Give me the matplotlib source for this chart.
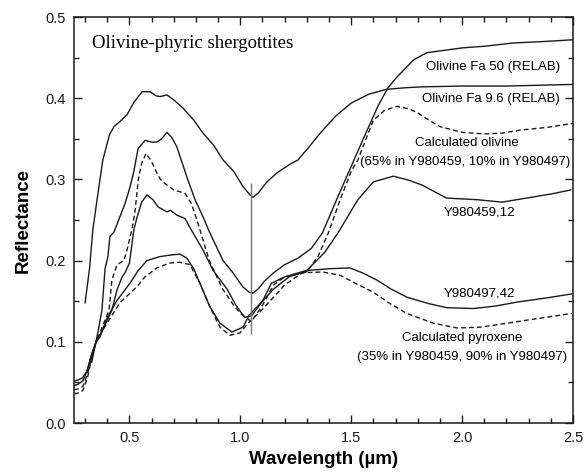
import matplotlib
matplotlib.use('Agg')
from matplotlib import pyplot as plt
from matplotlib.ticker import MultipleLocator, FormatStrFormatter

plt.rcParams['font.family'] = ['Liberation Sans', 'DejaVu Sans']

# Olivine Fa 9.6 (RELAB)
wl_fa96 = [0.30, 0.32, 0.335, 0.354, 0.38, 0.41, 0.43, 0.46, 0.49, 0.52, 0.557,
           0.593, 0.62, 0.638, 0.669, 0.70, 0.741, 0.79, 0.832, 0.88, 0.922,
           0.97, 1.01, 1.04, 1.057, 1.08, 1.12, 1.165, 1.22, 1.26, 1.31, 1.36,
           1.43, 1.5, 1.58, 1.66, 1.75, 1.82, 2.0, 2.2, 2.35, 2.5]
r_fa96 = [0.148, 0.19, 0.238, 0.275, 0.324, 0.355, 0.365, 0.372, 0.38, 0.395,
          0.408, 0.408, 0.403, 0.402, 0.404, 0.398, 0.388, 0.373, 0.357, 0.342,
          0.324, 0.31, 0.292, 0.282, 0.278, 0.283, 0.297, 0.308, 0.318, 0.324,
          0.34, 0.357, 0.378, 0.394, 0.405, 0.411, 0.413, 0.414, 0.415, 0.415,
          0.416, 0.417]

# Olivine Fa 50 (RELAB)
wl_fa50 = [0.33, 0.345, 0.36, 0.376, 0.39, 0.403, 0.412, 0.43, 0.457, 0.48,
           0.502, 0.52, 0.539, 0.57, 0.6, 0.624, 0.645, 0.669, 0.69, 0.714,
           0.759, 0.796, 0.83, 0.863, 0.922, 0.967, 1.01, 1.04, 1.057, 1.08,
           1.11, 1.15, 1.2, 1.26, 1.32, 1.37, 1.45, 1.553, 1.62, 1.666, 1.706,
           1.78, 1.84, 1.92, 2.0, 2.1, 2.23, 2.38, 2.5]
r_fa50 = [0.075, 0.095, 0.115, 0.139, 0.19, 0.205, 0.23, 0.235, 0.254, 0.27,
          0.29, 0.31, 0.338, 0.348, 0.346, 0.346, 0.35, 0.358, 0.352, 0.34,
          0.303, 0.275, 0.255, 0.234, 0.2, 0.185, 0.168, 0.161, 0.16, 0.165,
          0.175, 0.185, 0.195, 0.203, 0.215, 0.234, 0.285, 0.349, 0.39, 0.413,
          0.426, 0.447, 0.456, 0.459, 0.462, 0.464, 0.468, 0.47, 0.472]

# Calculated olivine
wl_calc_ol = [0.25, 0.27, 0.29, 0.31, 0.33, 0.35, 0.38, 0.408, 0.421, 0.444,
              0.475, 0.489, 0.511, 0.525, 0.54, 0.555, 0.575, 0.6, 0.62, 0.64,
              0.66, 0.7, 0.75, 0.78, 0.81, 0.86, 0.92, 0.97, 1.0, 1.05, 1.1,
              1.15, 1.2, 1.3, 1.35, 1.4, 1.45, 1.5, 1.53, 1.6, 1.65, 1.706,
              1.76, 1.8, 1.85, 1.9, 2.0, 2.1, 2.18, 2.27, 2.38, 2.5]
r_calc_ol = [0.036, 0.037, 0.04, 0.055, 0.08, 0.1, 0.12, 0.139, 0.176, 0.195,
             0.2, 0.213, 0.238, 0.26, 0.3, 0.32, 0.332, 0.322, 0.31, 0.3,
             0.295, 0.287, 0.283, 0.27, 0.245, 0.2, 0.165, 0.145, 0.135, 0.125,
             0.145, 0.17, 0.18, 0.186, 0.205, 0.236, 0.275, 0.31, 0.324, 0.373,
             0.385, 0.39, 0.387, 0.382, 0.373, 0.365, 0.358, 0.356, 0.357,
             0.361, 0.364, 0.369]

# Y980459,12
wl_y459 = [0.25, 0.27, 0.29, 0.31, 0.33, 0.35, 0.38, 0.421, 0.444, 0.467, 0.48,
           0.5, 0.52, 0.535, 0.555, 0.579, 0.606, 0.63, 0.67, 0.685, 0.714,
           0.75, 0.787, 0.832, 0.877, 0.94, 0.98, 1.02, 1.05, 1.1, 1.14, 1.2,
           1.3, 1.38, 1.44, 1.53, 1.6, 1.69, 1.76, 1.82, 1.93, 2.0, 2.07, 2.18,
           2.29, 2.4, 2.49]
r_y459 = [0.046, 0.048, 0.052, 0.065, 0.085, 0.1, 0.115, 0.139, 0.164, 0.18,
          0.185, 0.197, 0.238, 0.254, 0.272, 0.281, 0.275, 0.266, 0.26, 0.262,
          0.256, 0.252, 0.234, 0.213, 0.188, 0.165, 0.145, 0.13, 0.132, 0.15,
          0.172, 0.18, 0.188, 0.21, 0.234, 0.275, 0.297, 0.304, 0.299, 0.293,
          0.277, 0.276, 0.275, 0.272, 0.277, 0.282, 0.287]

# Y980497,42
wl_y497 = [0.25, 0.27, 0.29, 0.31, 0.33, 0.35, 0.367, 0.4, 0.444, 0.502, 0.54,
           0.579, 0.638, 0.69, 0.728, 0.759, 0.79, 0.818, 0.863, 0.908, 0.962,
           1.012, 1.04, 1.1, 1.15, 1.22, 1.31, 1.4, 1.494, 1.55, 1.616, 1.68,
           1.751, 1.85, 1.932, 2.05, 2.15, 2.25, 2.38, 2.495]
r_y497 = [0.052, 0.053, 0.056, 0.065, 0.085, 0.1, 0.106, 0.13, 0.151, 0.172,
          0.188, 0.2, 0.205, 0.207, 0.208, 0.203, 0.19, 0.172, 0.143, 0.123,
          0.112, 0.118, 0.133, 0.15, 0.165, 0.18, 0.188, 0.19, 0.191, 0.185,
          0.176, 0.165, 0.155, 0.147, 0.142, 0.141, 0.144, 0.149, 0.154, 0.159]

# Calculated pyroxene
wl_calc_px = [0.25, 0.27, 0.29, 0.31, 0.33, 0.35, 0.37, 0.399, 0.457, 0.534,
              0.57, 0.624, 0.68, 0.728, 0.773, 0.818, 0.863, 0.908, 0.953,
              0.998, 1.043, 1.1, 1.15, 1.2, 1.28, 1.37, 1.45, 1.52, 1.6, 1.67,
              1.75, 1.87, 1.977, 2.08, 2.157, 2.3, 2.4, 2.495]
r_calc_px = [0.041, 0.042, 0.045, 0.06, 0.08, 0.1, 0.11, 0.123, 0.148, 0.168,
             0.18, 0.191, 0.197, 0.198, 0.195, 0.172, 0.143, 0.118, 0.108,
             0.111, 0.125, 0.14, 0.155, 0.17, 0.185, 0.186, 0.182, 0.172,
             0.161, 0.148, 0.135, 0.123, 0.117, 0.118, 0.121, 0.127, 0.131,
             0.135]

# 1.05 um band marker
band_wl = 1.05
band_lo, band_hi = 0.11, 0.295

fig = plt.figure(figsize=(5.84, 4.73), dpi=100)
ax = fig.add_axes([0.1267, 0.1057, 0.8544, 0.8583])

ink = '#1a1a1a'
solid = dict(color=ink, lw=1.0)
dashed = dict(color=ink, lw=1.0, ls=(0, (3.5, 2.2)))

ax.plot(wl_fa96, r_fa96, **solid)
ax.plot(wl_fa50, r_fa50, **solid)
ax.plot(wl_calc_ol, r_calc_ol, **dashed)
ax.plot(wl_y459, r_y459, **solid)
ax.plot(wl_y497, r_y497, **solid)
ax.plot(wl_calc_px, r_calc_px, **dashed)
ax.vlines(band_wl, band_lo, band_hi, color='#777777', lw=1.0)

ax.set_xlim(0.25, 2.5)
ax.set_ylim(0.0, 0.5)
ax.xaxis.set_major_locator(MultipleLocator(0.5))
ax.xaxis.set_minor_locator(MultipleLocator(0.1))
ax.yaxis.set_major_locator(MultipleLocator(0.1))
ax.yaxis.set_minor_locator(MultipleLocator(0.05))
ax.xaxis.set_major_formatter(FormatStrFormatter('%.1f'))
ax.yaxis.set_major_formatter(FormatStrFormatter('%.1f'))
ax.tick_params(which='both', direction='in', top=True, right=True,
               width=1.0, colors=ink, labelsize=10.5, pad=6)
ax.tick_params(which='major', length=6)
ax.tick_params(which='minor', length=3.5)
for s in ax.spines.values():
    s.set_linewidth(1.1)
    s.set_color(ink)

ax.set_xlabel('Wavelength (\u00b5m)', fontsize=13.5, fontweight='bold', labelpad=4)
ax.set_ylabel('Reflectance', fontsize=13.5, fontweight='bold', labelpad=10)

ax.text(0.331, 0.468, 'Olivine-phyric shergottites', family='Liberation Serif',
        fontsize=13.5, va='center', ha='left')

fs = 9.5
ax.text(2.44, 0.438, 'Olivine Fa 50 (RELAB)', fontsize=fs, ha='right', va='center')
ax.text(2.44, 0.399, 'Olivine Fa 9.6 (RELAB)', fontsize=fs, ha='right', va='center')
ax.text(2.02, 0.345, 'Calculated olivine', fontsize=fs, ha='center', va='center')
ax.text(2.015, 0.321, '(65% in Y980459, 10% in Y980497)', fontsize=fs,
        ha='center', va='center')
ax.text(2.08, 0.259, 'Y980459,12', fontsize=fs, ha='center', va='center')
ax.text(2.08, 0.159, 'Y980497,42', fontsize=fs, ha='center', va='center')
ax.text(2.0, 0.105, 'Calculated pyroxene', fontsize=fs, ha='center', va='center')
ax.text(2.0, 0.081, '(35% in Y980459, 90% in Y980497)', fontsize=fs,
        ha='center', va='center')

fig.savefig('out.png', dpi=100)
